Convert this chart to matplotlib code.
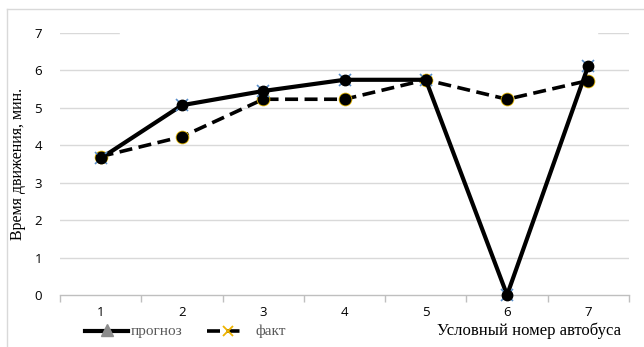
import matplotlib
matplotlib.use("Agg")
import matplotlib.pyplot as plt
from matplotlib.lines import Line2D
from matplotlib.patches import Rectangle

categories = [1, 2, 3, 4, 5, 6, 7]
prognoz = [3.65, 5.07, 5.45, 5.75, 5.75, 0.0, 6.13]
fakt = [3.70, 4.23, 5.23, 5.23, 5.75, 5.23, 5.73]
yticks = [0, 1, 2, 3, 4, 5, 6, 7]

W, H = 644, 347
fig = plt.figure(figsize=(W / 100, H / 100), dpi=100)
ax = fig.add_axes([60 / W, 1 - 295 / H, (629 - 60) / W, (295 - 33) / H])

x = list(range(len(categories)))

# grid
for v in yticks[1:]:
    ax.axhline(v, color="#d9d9d9", lw=1.0, zorder=0)

dash = (0, (3.6, 1.8))
# series
ax.plot(x, fakt, color="black", lw=2.6, ls=dash, zorder=3)
ax.plot(x, fakt, ls="none", marker="o", ms=9, mfc="#7a9a3a", mec="#e0b000", mew=0.8, zorder=3.5, clip_on=False)
ax.plot(x, fakt, ls="none", marker="o", ms=7.5, color="black", zorder=4, clip_on=False)
ax.plot(x, prognoz, color="black", lw=3.0, zorder=5, clip_on=False)
ax.plot(x, prognoz, ls="none", marker="x", ms=9, mec="#5b8fc9", mew=1.2, zorder=5.5, clip_on=False)
ax.plot(x, prognoz, ls="none", marker="o", ms=7.5, color="black", zorder=6, clip_on=False)

# axes styling
for s in ["left", "top", "right"]:
    ax.spines[s].set_visible(False)
ax.spines["bottom"].set_color("#bfbfbf")
ax.spines["bottom"].set_linewidth(1.0)
ax.set_yticks(yticks)
ax.set_yticklabels([str(v) for v in yticks], fontsize=9.5, family="Open Sans")
ax.tick_params(axis="y", length=0, pad=13)
ax.set_xticks(x)
ax.set_xticklabels([str(c) for c in categories], fontsize=9.5, family="Open Sans")
ax.tick_params(axis="x", length=0, pad=8)
ax.set_xticks([i - 0.5 for i in range(len(categories) + 1)], minor=True)
ax.tick_params(axis="x", which="minor", length=5, color="#bfbfbf", width=1)
ax.set_xlim(-0.5, len(categories) - 0.5)
ax.set_ylim(0, 7)

ax.set_ylabel("Время движения, мин.", family="Liberation Serif", fontsize=11.5, labelpad=6)

# cover part of top gridline (hidden title box)
fig.add_artist(Rectangle((120 / W, 1 - 40 / H), (597 - 120) / W, 14 / H,
                         transform=fig.transFigure, color="white", zorder=10))

# chart border
fig.add_artist(Line2D([7 / W, 1], [1 - 9 / H, 1 - 9 / H], color="#d9d9d9", lw=1.0, transform=fig.transFigure))
fig.add_artist(Line2D([7 / W, 7 / W], [0, 1 - 9 / H], color="#d9d9d9", lw=1.0, transform=fig.transFigure))

# legend (manual)
ly = 1 - 331 / H
fig.add_artist(Line2D([85 / W, 128 / W], [ly, ly], color="black", lw=3.0, transform=fig.transFigure))
fig.add_artist(Line2D([107 / W], [ly + 1 / H], marker="^", ms=8, color="#8c8c8c", ls="none", transform=fig.transFigure))
fig.text(131 / W, ly, "прогноз", family="Liberation Serif", fontsize=11, color="#595959", va="center", ha="left")
fig.add_artist(Line2D([207 / W, 245 / W], [ly, ly], color="black", lw=2.6, ls=dash, transform=fig.transFigure))
fig.add_artist(Line2D([228 / W], [ly], marker="x", ms=7, mec="#f0b400", mew=1.3, ls="none", transform=fig.transFigure))
fig.text(255 / W, ly, "факт", family="Liberation Serif", fontsize=11, color="#595959", va="center", ha="left")

fig.text(621 / W, ly, "Условный номер автобуса", family="Liberation Serif", fontsize=12,
         color="black", va="center", ha="right")

fig.savefig("out.png", dpi=100)
